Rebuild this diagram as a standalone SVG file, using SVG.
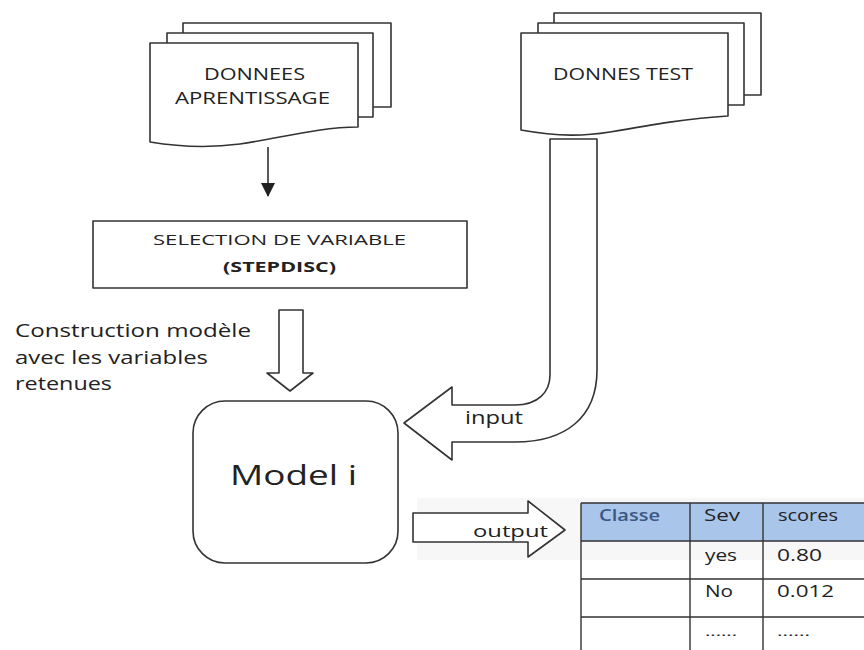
<svg xmlns="http://www.w3.org/2000/svg" width="864" height="650" viewBox="0 0 864 650">
<defs>
<style>
.ln{fill:#fff;stroke:#333;stroke-width:1.6;stroke-linejoin:round}
.pg{fill:none;stroke:#333;stroke-width:1.6;stroke-linejoin:round}
.t{font-family:"Open Sans","Liberation Sans",sans-serif;fill:#222}
.cell{fill:none;stroke:#333;stroke-width:1.4}
</style>
<marker id="ah" markerWidth="14" markerHeight="14" refX="7" refY="13" orient="0" markerUnits="userSpaceOnUse" viewBox="0 0 14 14">
<path d="M0,0 L14,0 L7,14 Z" fill="#222"/>
</marker>
</defs>
<rect width="864" height="650" fill="#fff"/>
<rect x="417" y="498" width="447" height="62" fill="#f7f7f7"/>

<g id="doc-apprentissage">
<path class="pg" d="M183,33 V23 H391 V107 H373"/>
<path class="pg" d="M167,43 V33 H373 V117 H358"/>
<path class="ln" d="M150,43 H358 V127 C320,127 280,138 240,144 C210,148 180,147 150,142 Z"/>
<text class="t" x="204" y="80" font-size="16" textLength="101" lengthAdjust="spacingAndGlyphs">DONNEES</text>
<text class="t" x="175" y="104" font-size="16" textLength="155" lengthAdjust="spacingAndGlyphs">APRENTISSAGE</text>
</g>

<g id="doc-test">
<path class="pg" d="M554,23 V13 H761 V95 H744"/>
<path class="pg" d="M538,33 V23 H744 V105 H728"/>
<path class="ln" d="M521,33 H728 V116 C690,118 650,125 610,132 C585,136 560,137 521,130 Z"/>
<text class="t" x="553" y="80" font-size="16" textLength="140" lengthAdjust="spacingAndGlyphs">DONNES TEST</text>
</g>

<g id="selection">
<rect class="ln" x="93" y="221" width="374" height="67"/>
<text class="t" x="153" y="245" font-size="15" textLength="253" lengthAdjust="spacingAndGlyphs">SELECTION DE VARIABLE</text>
<text class="t" x="223" y="272" font-size="15" font-weight="bold" textLength="113" lengthAdjust="spacingAndGlyphs">(STEPDISC)</text>
</g>

<g id="construction-label">
<text class="t" x="15" y="337" font-size="19" textLength="236" lengthAdjust="spacingAndGlyphs">Construction modèle</text>
<text class="t" x="15" y="364" font-size="19" textLength="193" lengthAdjust="spacingAndGlyphs">avec les variables</text>
<text class="t" x="15" y="390" font-size="19" textLength="97" lengthAdjust="spacingAndGlyphs">retenues</text>
</g>

<g id="model">
<rect class="ln" x="193" y="401" width="205" height="162" rx="32" ry="32"/>
<text class="t" x="230" y="485" font-size="28" textLength="127" lengthAdjust="spacingAndGlyphs">Model i</text>
</g>

<g id="table">
<rect x="581" y="503" width="283" height="38" fill="#a9c5ea"/>
<path class="cell" d="M581,503 H864 M581,541 H864 M581,579 H864 M581,617 H864 M581,503 V650 M690,503 V650 M763,503 V650"/>
<text class="t" x="599" y="521" font-size="16" font-weight="600" style="fill:#3b5784" textLength="61" lengthAdjust="spacingAndGlyphs">Classe</text>
<text class="t" x="704" y="521" font-size="16" textLength="36" lengthAdjust="spacingAndGlyphs">Sev</text>
<text class="t" x="778" y="521" font-size="16" textLength="60" lengthAdjust="spacingAndGlyphs">scores</text>
<text class="t" x="705" y="561" font-size="16" textLength="32" lengthAdjust="spacingAndGlyphs">yes</text>
<text class="t" x="777" y="561" font-size="16" textLength="45" lengthAdjust="spacingAndGlyphs">0.80</text>
<text class="t" x="705" y="597" font-size="16" textLength="28" lengthAdjust="spacingAndGlyphs">No</text>
<text class="t" x="777" y="597" font-size="16" textLength="57" lengthAdjust="spacingAndGlyphs">0.012</text>
<text class="t" x="705" y="636" font-size="12" textLength="32" lengthAdjust="spacingAndGlyphs">......</text>
<text class="t" x="777" y="636" font-size="12" textLength="33" lengthAdjust="spacingAndGlyphs">......</text>
</g>

<g id="connectors">
<line x1="268" y1="147" x2="268" y2="196" stroke="#222" stroke-width="1.5" marker-end="url(#ah)"/>
<path class="ln" d="M279,310 H303 V373 H313 L290,391 L267,373 H279 Z"/>
<path class="ln" d="M597,139 V370 C597,418 565,442 515,442 H452 V460 L404,423 L452,387 V405 H515 C538,405 550,392 550,375 V139 Z"/>
<text class="t" x="465" y="424" font-size="18" textLength="58" lengthAdjust="spacingAndGlyphs">input</text>
<path class="ln" d="M528,513 H413 V542 H528 V557 L565,530 L528,501 Z"/>
<text class="t" x="473" y="537" font-size="17" textLength="75" lengthAdjust="spacingAndGlyphs">output</text>
</g>
</svg>
